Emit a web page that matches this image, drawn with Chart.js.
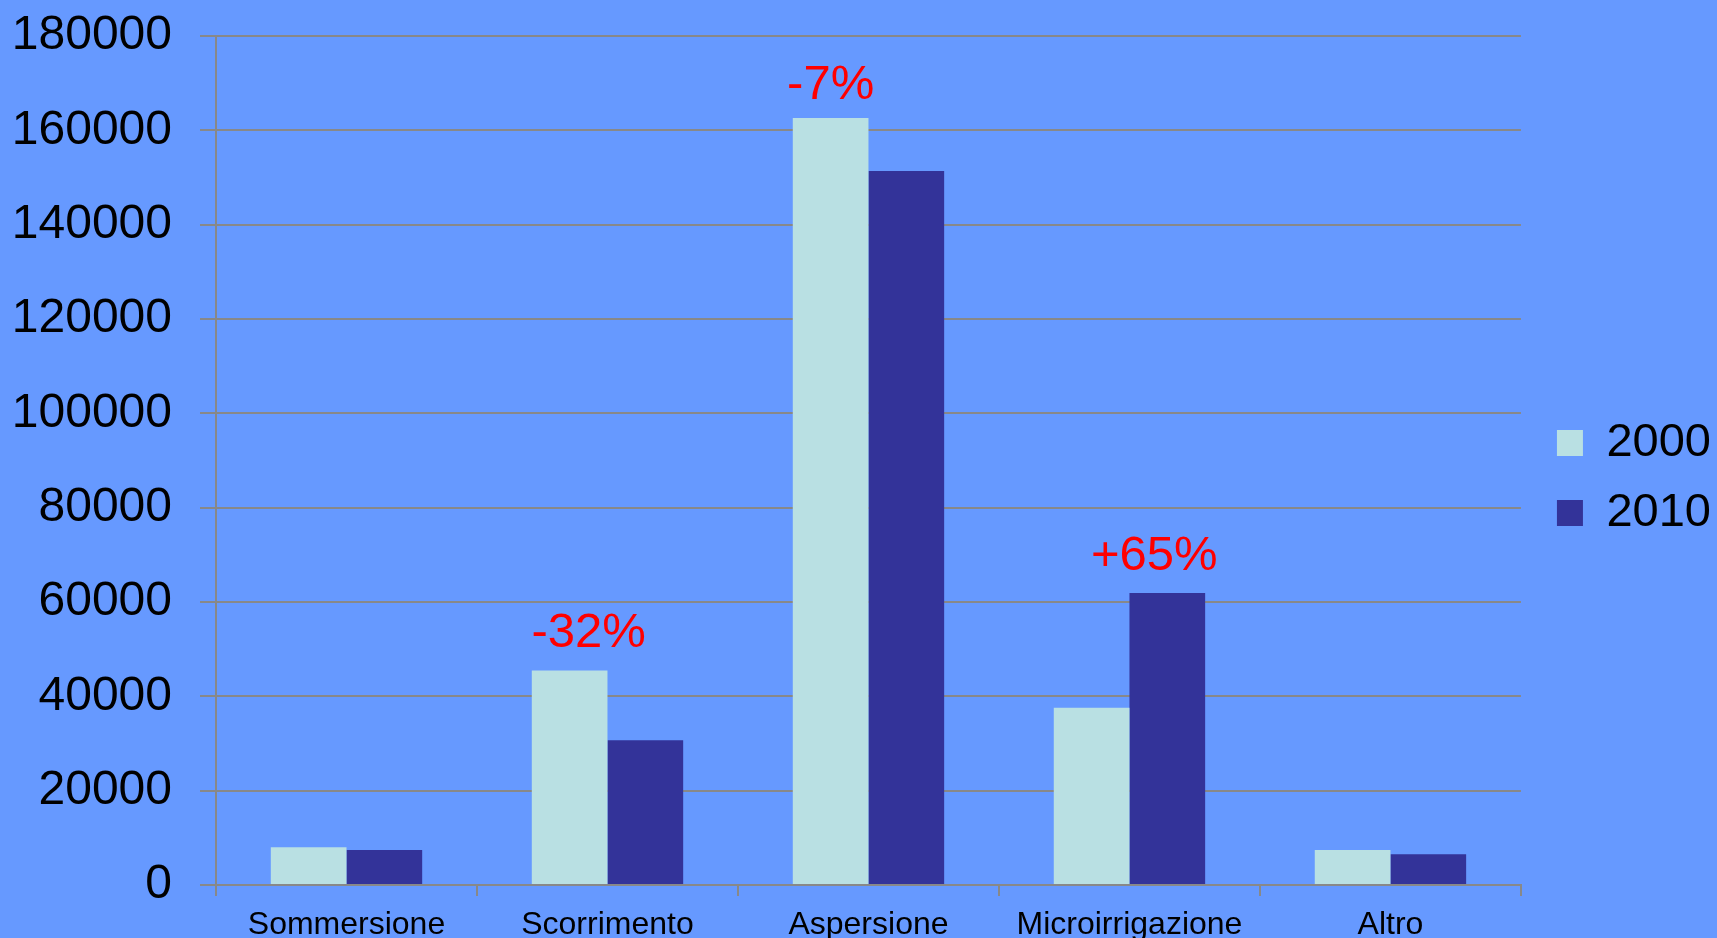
<!DOCTYPE html>
<html>
<head>
<meta charset="utf-8">
<script src="https://cdn.jsdelivr.net/npm/chart.js@4.4.1/dist/chart.umd.min.js"></script>
<style>
  html, body { margin: 0; padding: 0; background: #6699ff; overflow: hidden; }
  #wrap { width: 1717px; height: 938px; position: relative; }
</style>
</head>
<body>
<div id="wrap"><canvas id="c"></canvas></div>
<script>
const categories = ['Sommersione', 'Scorrimento', 'Aspersione', 'Microirrigazione', 'Altro'];
const seriesNames = ['2000', '2010'];
const values2000 = [8000, 45500, 162600, 37600, 7400];
const values2010 = [7400, 30700, 151400, 61900, 6500];
const changeLabels = ['', '-32%', '-7%', '+65%', ''];
const yTicks = { min: 0, max: 180000, step: 20000 };

const FONT = "'Liberation Sans', Arial, sans-serif";
const GRID = '#888888';

const changePlugin = {
  id: 'changes',
  afterLayout(chart) {
    // move the legend block a little right/up, closer to where the slide had it
    const lg = chart.legend;
    if (lg) { lg.left += 13; lg.right += 13; lg.top -= 9; lg.bottom -= 9; }
  },
  afterDatasetsDraw(chart) {
    const {ctx} = chart;
    const m0 = chart.getDatasetMeta(0);
    const m1 = chart.getDatasetMeta(1);
    const nudge = [[0, 0], [19, 0], [0, 4], [-13, 0], [0, 0]]; // hand placement
    ctx.save();
    ctx.fillStyle = '#ff0000';
    ctx.font = '49px ' + FONT;
    ctx.textAlign = 'center';
    ctx.textBaseline = 'middle';
    changeLabels.forEach((txt, i) => {
      if (!txt) return;
      // sit the label over the taller of the two bars
      const bar = m0.data[i].y < m1.data[i].y ? m0.data[i] : m1.data[i];
      ctx.fillText(txt, bar.x + nudge[i][0], bar.y - 37 + nudge[i][1]);
    });
    ctx.restore();
  }
};

new Chart(document.getElementById('c'), {
  type: 'bar',
  data: {
    labels: categories,
    datasets: [
      { label: seriesNames[0], data: values2000, backgroundColor: '#b9e0e3' },
      { label: seriesNames[1], data: values2010, backgroundColor: '#333399' }
    ]
  },
  options: {
    responsive: true,
    maintainAspectRatio: false,
    animation: false,
    layout: { padding: { top: 36, right: 9, left: 0, bottom: 0 } },
    datasets: { bar: { categoryPercentage: 0.58, barPercentage: 1 } },
    plugins: {
      legend: {
        position: 'right',
        labels: {
          boxWidth: 26, boxHeight: 26, padding: 23,
          color: '#000', font: { size: 47, family: FONT }
        }
      },
      tooltip: { enabled: false }
    },
    scales: {
      x: {
        grid: { display: true, drawOnChartArea: false, drawTicks: true, tickLength: 11, color: GRID, lineWidth: 2, offset: true },
        border: { display: true, color: GRID, width: 2 },
        ticks: { color: '#000', font: { size: 32, family: FONT }, padding: 10, maxRotation: 0 },
        afterFit(s) { s.height = 53; s.paddingLeft = 0; s.paddingRight = 0; }
      },
      y: {
        min: yTicks.min, max: yTicks.max,
        grid: { color: GRID, lineWidth: 2, tickLength: 16 },
        border: { display: true, color: GRID, width: 2 },
        ticks: {
          stepSize: yTicks.step, color: '#000', font: { size: 48, family: FONT }, padding: 28,
          callback: v => String(v)
        },
        afterFit(s) { s.width = 216; s.paddingTop = 0; s.paddingBottom = 0; }
      }
    }
  },
  plugins: [changePlugin]
});
</script>
</body>
</html>
